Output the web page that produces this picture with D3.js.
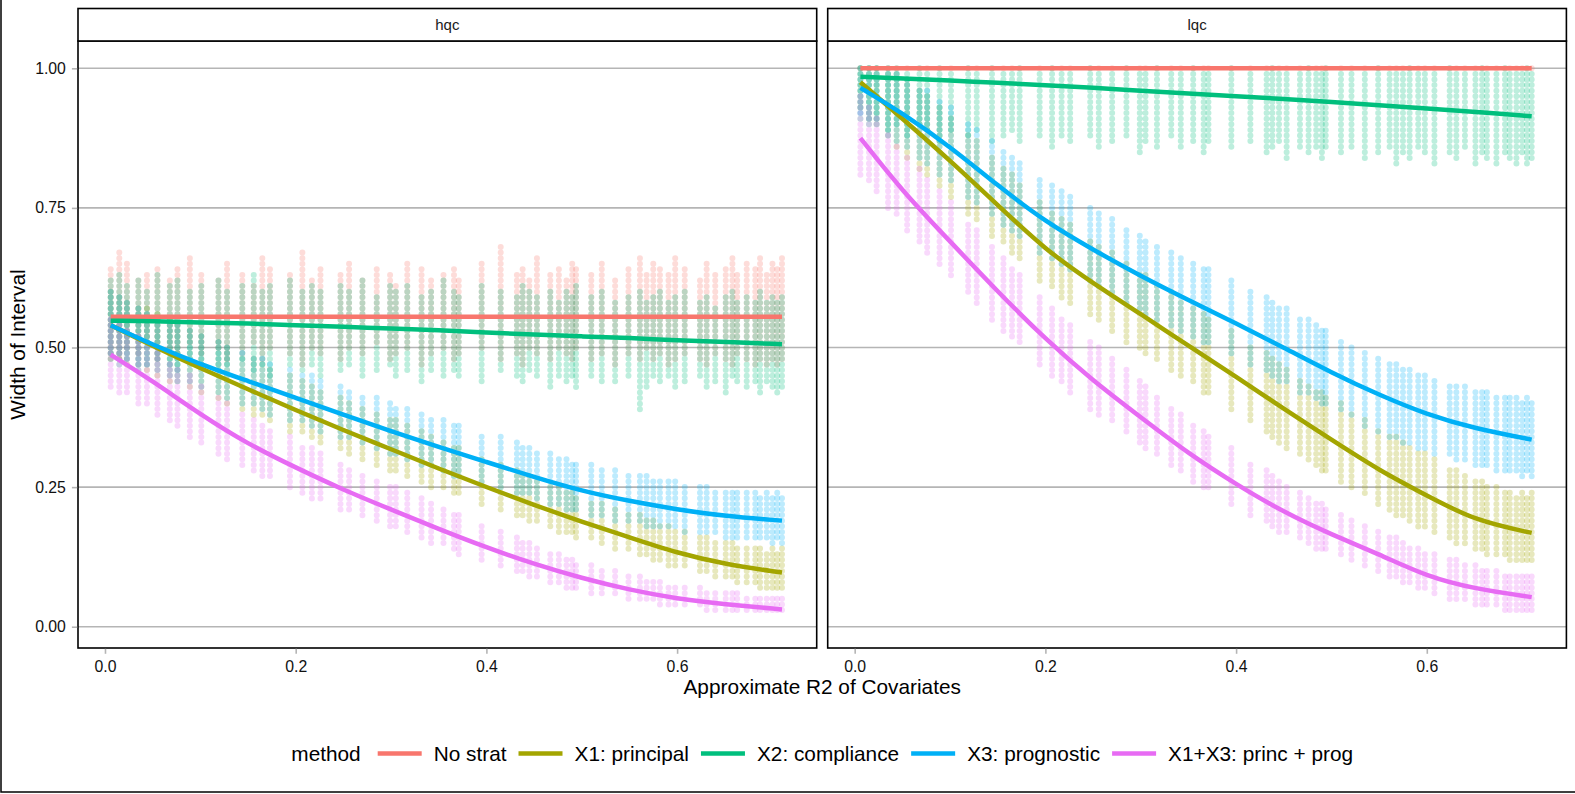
<!DOCTYPE html>
<html>
<head>
<meta charset="utf-8">
<script src="https://cdn.jsdelivr.net/npm/d3@7"></script>
<style>
  body { margin: 0; background: #fff; }
  svg { display: block; font-family: "Liberation Sans", Arial, Helvetica, sans-serif; }
</style>
</head>
<body>
<div id="chart"></div>
<script>
/* DATA */
const panels = ["hqc", "lqc"];
const methods = ["No strat", "X1: principal", "X2: compliance", "X3: prognostic", "X1+X3: princ + prog"];
const colors = ["#F8766D", "#A3A500", "#00BF7D", "#00B0F6", "#E76BF3"];
const xTicks = [0, 0.2, 0.4, 0.6];
const yTicks = [0, 0.25, 0.5, 0.75, 1];

// x positions (approximate R2) of the point columns, shared by both panels
const cols = [0.006,0.015,0.023,0.035,0.044,0.055,0.068,0.076,0.089,0.101,
  0.119,0.128,0.144,0.156,0.165,0.173,0.194,0.207,0.217,0.226,
  0.247,0.256,0.270,0.285,0.299,0.305,0.317,0.332,0.342,0.355,
  0.366,0.371,0.395,0.415,0.432,0.438,0.445,0.453,0.467,0.476,
  0.484,0.490,0.494,0.510,0.521,0.535,0.549,0.561,0.568,0.575,
  0.582,0.591,0.598,0.608,0.624,0.631,0.640,0.651,0.658,0.663,
  0.673,0.682,0.687,0.694,0.700,0.705,0.710];

// lowest / highest point in each column
const hqcNoStratLo = [0.48,0.47,0.49,0.48,0.50,0.47,0.49,0.48,0.50,0.48,
  0.49,0.47,0.48,0.50,0.47,0.49,0.48,0.46,0.49,0.48,
  0.47,0.49,0.48,0.50,0.47,0.48,0.49,0.46,0.48,0.49,
  0.47,0.48,0.49,0.47,0.48,0.46,0.49,0.48,0.47,0.49,
  0.48,0.47,0.49,0.47,0.48,0.46,0.48,0.47,0.49,0.47,
  0.48,0.46,0.47,0.48,0.47,0.46,0.48,0.47,0.46,0.48,
  0.47,0.46,0.47,0.46,0.47,0.46,0.47];
const hqcNoStratHi = [0.64,0.67,0.65,0.62,0.63,0.64,0.62,0.64,0.66,0.63,
  0.62,0.65,0.63,0.61,0.66,0.64,0.63,0.67,0.62,0.64,
  0.63,0.65,0.62,0.64,0.63,0.61,0.65,0.64,0.62,0.63,
  0.64,0.62,0.65,0.68,0.63,0.64,0.62,0.66,0.63,0.64,
  0.62,0.65,0.64,0.63,0.65,0.62,0.64,0.66,0.63,0.65,
  0.64,0.63,0.66,0.64,0.62,0.65,0.63,0.64,0.66,0.63,
  0.65,0.64,0.66,0.63,0.65,0.64,0.66];
const hqcX1Lo = [0.47,0.47,0.46,0.46,0.45,0.44,0.43,0.43,0.42,0.41,
  0.40,0.39,0.38,0.37,0.37,0.36,0.34,0.34,0.33,0.32,
  0.31,0.30,0.29,0.28,0.27,0.27,0.26,0.25,0.24,0.24,
  0.23,0.23,0.21,0.20,0.19,0.19,0.18,0.18,0.17,0.16,
  0.16,0.16,0.15,0.15,0.14,0.13,0.13,0.12,0.12,0.11,
  0.11,0.10,0.10,0.10,0.09,0.09,0.08,0.08,0.08,0.07,
  0.07,0.07,0.06,0.06,0.06,0.06,0.06];
const hqcX1Hi = [0.60,0.59,0.58,0.57,0.57,0.56,0.55,0.54,0.53,0.52,
  0.51,0.50,0.48,0.48,0.47,0.46,0.45,0.44,0.43,0.42,
  0.41,0.40,0.39,0.38,0.37,0.37,0.36,0.35,0.34,0.33,
  0.32,0.32,0.30,0.29,0.28,0.27,0.27,0.26,0.25,0.25,
  0.24,0.24,0.23,0.22,0.22,0.21,0.20,0.20,0.19,0.19,
  0.18,0.18,0.17,0.17,0.16,0.16,0.15,0.15,0.15,0.14,
  0.14,0.14,0.14,0.13,0.14,0.13,0.14];
const hqcX2Lo = [0.47,0.46,0.47,0.45,0.46,0.47,0.46,0.45,0.47,0.46,
  0.45,0.46,0.47,0.45,0.46,0.44,0.46,0.45,0.46,0.44,
  0.45,0.46,0.44,0.45,0.46,0.44,0.45,0.43,0.45,0.44,
  0.45,0.44,0.43,0.45,0.44,0.43,0.45,0.44,0.42,0.44,
  0.43,0.44,0.42,0.44,0.43,0.43,0.44,0.38,0.42,0.44,
  0.43,0.44,0.42,0.43,0.44,0.42,0.43,0.41,0.44,0.43,
  0.42,0.43,0.41,0.43,0.42,0.41,0.42];
const hqcX2Hi = [0.62,0.63,0.61,0.62,0.60,0.63,0.61,0.62,0.60,0.61,
  0.62,0.60,0.61,0.63,0.60,0.61,0.62,0.60,0.61,0.60,
  0.61,0.60,0.62,0.59,0.61,0.60,0.61,0.59,0.60,0.62,
  0.60,0.59,0.61,0.60,0.59,0.61,0.60,0.59,0.60,0.58,
  0.60,0.59,0.61,0.59,0.60,0.58,0.59,0.60,0.58,0.59,
  0.60,0.58,0.59,0.60,0.58,0.59,0.57,0.59,0.60,0.58,
  0.59,0.58,0.60,0.58,0.59,0.58,0.59];
const hqcX3Lo = [0.48,0.48,0.47,0.46,0.46,0.45,0.44,0.43,0.43,0.42,
  0.41,0.40,0.39,0.39,0.38,0.37,0.36,0.36,0.35,0.34,
  0.33,0.33,0.32,0.31,0.30,0.30,0.29,0.28,0.28,0.27,
  0.26,0.26,0.25,0.24,0.23,0.23,0.23,0.22,0.21,0.21,
  0.20,0.20,0.20,0.19,0.19,0.18,0.18,0.18,0.17,0.17,
  0.17,0.17,0.17,0.16,0.16,0.16,0.16,0.15,0.15,0.15,
  0.15,0.15,0.15,0.15,0.14,0.15,0.14];
const hqcX3Hi = [0.60,0.59,0.58,0.57,0.56,0.55,0.54,0.54,0.53,0.52,
  0.51,0.50,0.49,0.48,0.48,0.47,0.46,0.45,0.45,0.44,
  0.43,0.42,0.41,0.41,0.40,0.39,0.39,0.38,0.37,0.37,
  0.36,0.36,0.34,0.34,0.33,0.32,0.32,0.31,0.31,0.30,
  0.30,0.29,0.29,0.29,0.28,0.28,0.27,0.27,0.27,0.26,
  0.26,0.26,0.26,0.25,0.25,0.25,0.24,0.24,0.24,0.24,
  0.24,0.24,0.23,0.24,0.23,0.24,0.23];
const hqcX13Lo = [0.42,0.41,0.41,0.39,0.39,0.37,0.36,0.35,0.33,0.32,
  0.30,0.29,0.28,0.27,0.26,0.26,0.24,0.23,0.22,0.22,
  0.20,0.20,0.19,0.18,0.17,0.17,0.16,0.15,0.14,0.14,
  0.13,0.12,0.11,0.10,0.09,0.09,0.08,0.08,0.07,0.07,
  0.06,0.06,0.06,0.05,0.05,0.05,0.04,0.04,0.04,0.04,
  0.03,0.03,0.03,0.03,0.03,0.02,0.02,0.02,0.02,0.02,
  0.02,0.02,0.02,0.02,0.02,0.02,0.02];
const hqcX13Hi = [0.55,0.54,0.53,0.52,0.50,0.49,0.47,0.46,0.45,0.43,
  0.41,0.40,0.38,0.37,0.36,0.35,0.34,0.32,0.32,0.31,
  0.29,0.28,0.27,0.26,0.25,0.25,0.24,0.23,0.22,0.21,
  0.20,0.20,0.18,0.17,0.16,0.15,0.15,0.14,0.13,0.13,
  0.12,0.12,0.11,0.11,0.10,0.10,0.09,0.09,0.08,0.08,
  0.08,0.07,0.07,0.07,0.07,0.06,0.06,0.06,0.06,0.06,
  0.05,0.05,0.05,0.05,0.05,0.05,0.05];

const lqcNoStratLo = [1,1,1,1,1,1,1,1,1,1, 1,1,1,1,1,1,1,1,1,1, 1,1,1,1,1,1,1,1,1,1,
  1,1,1,1,1,1,1,1,1,1, 1,1,1,1,1,1,1,1,1,1, 1,1,1,1,1,1,1,1,1,1, 1,1,1,1,1,1,1];
const lqcNoStratHi = [1,1,1,1,1,1,1,1,1,1, 1,1,1,1,1,1,1,1,1,1, 1,1,1,1,1,1,1,1,1,1,
  1,1,1,1,1,1,1,1,1,1, 1,1,1,1,1,1,1,1,1,1, 1,1,1,1,1,1,1,1,1,1, 1,1,1,1,1,1,1];
const lqcX1Lo = [0.92,0.90,0.89,0.87,0.85,0.83,0.81,0.80,0.78,0.76,
  0.73,0.72,0.69,0.68,0.66,0.65,0.61,0.60,0.58,0.57,
  0.55,0.54,0.52,0.50,0.49,0.48,0.47,0.45,0.44,0.43,
  0.41,0.41,0.38,0.36,0.34,0.33,0.32,0.31,0.30,0.29,
  0.28,0.27,0.27,0.25,0.24,0.23,0.21,0.20,0.19,0.19,
  0.18,0.17,0.17,0.16,0.15,0.14,0.14,0.13,0.13,0.12,
  0.12,0.12,0.11,0.11,0.11,0.11,0.11];
const lqcX1Hi = [1.00,1.00,1.00,1.00,0.99,0.98,0.96,0.95,0.93,0.91,
  0.88,0.87,0.84,0.82,0.81,0.79,0.76,0.74,0.73,0.72,
  0.69,0.68,0.67,0.65,0.63,0.63,0.61,0.60,0.58,0.57,
  0.56,0.55,0.53,0.50,0.49,0.48,0.47,0.46,0.44,0.43,
  0.42,0.42,0.41,0.40,0.38,0.37,0.35,0.34,0.34,0.33,
  0.32,0.31,0.31,0.30,0.28,0.28,0.27,0.26,0.26,0.25,
  0.25,0.24,0.24,0.23,0.24,0.23,0.24];
const lqcX2Lo = [0.90,0.89,0.90,0.88,0.89,0.87,0.89,0.88,0.86,0.88,
  0.87,0.88,0.86,0.87,0.88,0.86,0.87,0.85,0.87,0.86,
  0.87,0.85,0.86,0.87,0.84,0.86,0.85,0.87,0.85,0.86,
  0.84,0.86,0.85,0.86,0.84,0.85,0.86,0.83,0.85,0.84,
  0.85,0.83,0.85,0.84,0.85,0.83,0.84,0.85,0.82,0.84,
  0.83,0.85,0.84,0.82,0.84,0.83,0.85,0.82,0.84,0.83,
  0.82,0.84,0.83,0.82,0.84,0.82,0.83];
const lqcX2Hi = [1.00,1.00,1.00,0.99,1.00,0.99,1.00,0.99,1.00,0.99,
  1.00,0.99,1.00,0.99,0.99,1.00,0.99,1.00,0.99,0.99,
  1.00,0.99,0.99,1.00,0.99,0.99,1.00,0.99,0.99,1.00,
  0.99,0.99,1.00,0.99,0.99,1.00,0.99,0.99,0.99,1.00,
  0.99,0.99,1.00,0.99,0.99,0.99,1.00,0.99,0.99,0.99,
  1.00,0.99,0.99,0.99,1.00,0.99,0.99,0.99,1.00,0.99,
  0.99,1.00,0.99,0.99,0.99,1.00,0.99];
const lqcX3Lo = [0.91,0.90,0.89,0.87,0.86,0.85,0.83,0.82,0.80,0.79,
  0.76,0.75,0.73,0.71,0.70,0.69,0.66,0.65,0.64,0.63,
  0.61,0.60,0.59,0.57,0.56,0.55,0.54,0.53,0.52,0.51,
  0.50,0.50,0.48,0.46,0.45,0.44,0.43,0.43,0.41,0.41,
  0.40,0.39,0.39,0.38,0.37,0.35,0.34,0.33,0.33,0.32,
  0.32,0.31,0.31,0.30,0.30,0.29,0.29,0.28,0.28,0.28,
  0.27,0.27,0.27,0.27,0.26,0.27,0.26];
const lqcX3Hi = [1.00,1.00,1.00,1.00,0.99,0.98,0.96,0.96,0.94,0.93,
  0.90,0.89,0.87,0.85,0.84,0.83,0.80,0.79,0.78,0.77,
  0.75,0.74,0.73,0.71,0.70,0.69,0.68,0.67,0.66,0.65,
  0.64,0.64,0.62,0.60,0.59,0.58,0.57,0.57,0.55,0.55,
  0.54,0.53,0.53,0.51,0.50,0.49,0.48,0.47,0.47,0.46,
  0.46,0.45,0.45,0.44,0.43,0.43,0.43,0.42,0.42,0.42,
  0.41,0.41,0.41,0.41,0.40,0.41,0.40];
const lqcX13Lo = [0.80,0.79,0.77,0.74,0.73,0.70,0.68,0.66,0.64,0.62,
  0.59,0.57,0.54,0.52,0.51,0.50,0.46,0.44,0.43,0.41,
  0.38,0.37,0.36,0.34,0.32,0.31,0.30,0.28,0.27,0.25,
  0.24,0.24,0.21,0.19,0.18,0.17,0.16,0.16,0.15,0.14,
  0.13,0.13,0.13,0.12,0.11,0.10,0.09,0.08,0.08,0.07,
  0.07,0.06,0.06,0.05,0.04,0.04,0.04,0.03,0.03,0.03,
  0.03,0.02,0.02,0.02,0.02,0.02,0.02];
const lqcX13Hi = [0.95,0.93,0.91,0.88,0.86,0.84,0.82,0.80,0.78,0.76,
  0.72,0.71,0.68,0.66,0.64,0.63,0.59,0.57,0.55,0.54,
  0.51,0.50,0.48,0.46,0.44,0.43,0.41,0.39,0.38,0.36,
  0.35,0.34,0.32,0.29,0.28,0.27,0.26,0.25,0.24,0.23,
  0.22,0.22,0.21,0.20,0.19,0.18,0.17,0.16,0.16,0.15,
  0.14,0.14,0.13,0.13,0.12,0.12,0.11,0.11,0.10,0.10,
  0.10,0.09,0.09,0.09,0.09,0.09,0.09];

// smoothed trend lines, read at these x positions
const knots = [0.006,0.05,0.1,0.15,0.2,0.25,0.3,0.35,0.4,0.45,0.5,0.55,0.6,0.65,0.71];
const hqcNoStratFit = [0.555,0.555,0.555,0.555,0.555,0.555,0.555,0.555,0.555,0.555,0.555,0.555,0.555,0.555,0.555];
const hqcX1Fit = [0.540,0.503,0.463,0.425,0.388,0.352,0.318,0.283,0.250,0.218,0.188,0.160,0.132,0.112,0.097];
const hqcX2Fit = [0.548,0.547,0.545,0.543,0.540,0.537,0.534,0.531,0.527,0.523,0.520,0.517,0.513,0.510,0.506];
const hqcX3Fit = [0.540,0.505,0.470,0.440,0.410,0.380,0.350,0.322,0.295,0.268,0.243,0.225,0.210,0.198,0.190];
const hqcX13Fit = [0.487,0.440,0.380,0.327,0.285,0.245,0.210,0.175,0.142,0.112,0.087,0.066,0.050,0.040,0.031];
const lqcNoStratFit = [1,1,1,1,1,1,1,1,1,1,1,1,1,1,1];
const lqcX1Fit = [0.975,0.910,0.835,0.755,0.675,0.615,0.560,0.503,0.448,0.390,0.335,0.280,0.235,0.190,0.168];
const lqcX2Fit = [0.985,0.982,0.978,0.974,0.970,0.965,0.960,0.955,0.950,0.945,0.940,0.934,0.928,0.922,0.914];
const lqcX3Fit = [0.965,0.920,0.860,0.790,0.725,0.675,0.628,0.585,0.543,0.500,0.455,0.415,0.380,0.355,0.335];
const lqcX13Fit = [0.875,0.780,0.690,0.600,0.515,0.440,0.375,0.310,0.255,0.205,0.165,0.130,0.090,0.068,0.053];

// table per panel, methods in legend order
const series = {
  hqc: [
    { lo: hqcNoStratLo, hi: hqcNoStratHi, fit: hqcNoStratFit },
    { lo: hqcX1Lo, hi: hqcX1Hi, fit: hqcX1Fit },
    { lo: hqcX2Lo, hi: hqcX2Hi, fit: hqcX2Fit },
    { lo: hqcX3Lo, hi: hqcX3Hi, fit: hqcX3Fit },
    { lo: hqcX13Lo, hi: hqcX13Hi, fit: hqcX13Fit }
  ],
  lqc: [
    { lo: lqcNoStratLo, hi: lqcNoStratHi, fit: lqcNoStratFit },
    { lo: lqcX1Lo, hi: lqcX1Hi, fit: lqcX1Fit },
    { lo: lqcX2Lo, hi: lqcX2Hi, fit: lqcX2Fit },
    { lo: lqcX3Lo, hi: lqcX3Hi, fit: lqcX3Fit },
    { lo: lqcX13Lo, hi: lqcX13Hi, fit: lqcX13Fit }
  ]
};

/* CONSTANTS */
const width = 1575, height = 794;
const stripTop = 8.5, panelTop = 41, panelBottom = 648;
const panelLeft = [78, 827.7], panelWidth = 738.7;
const xDomain = [-0.0283, 0.7464], yDomain = [-0.0381, 1.0489];
const gridColor = "#b5b5b5";
const baseFont = "20.8px";

const svg = d3.select("#chart")
  .append("svg")
  .attr("width", width)
  .attr("height", height);

svg.append("rect").attr("width", width).attr("height", height).attr("fill", "#fff");

// outer frame (only left and bottom edges show in the picture)
svg.append("rect")
  .attr("x", 1).attr("y", -10)
  .attr("width", width + 20).attr("height", 802)
  .attr("fill", "none").attr("stroke", "#000").attr("stroke-width", 1.5);

const yScale = d3.scaleLinear().domain(yDomain).range([panelBottom, panelTop]);

panels.forEach((p, pi) => {
  const x0 = panelLeft[pi], x1 = x0 + panelWidth;
  const xScale = d3.scaleLinear().domain(xDomain).range([x0, x1]);
  const g = svg.append("g").attr("class", "panel-" + p);

  // horizontal grid
  g.selectAll(".grid")
    .data(yTicks)
    .join("line")
    .attr("class", "grid")
    .attr("x1", x0).attr("x2", x1)
    .attr("y1", d => yScale(d)).attr("y2", d => yScale(d))
    .attr("stroke", gridColor).attr("stroke-width", 1.6);

  // point columns, drawn column by column so colours mix like the original
  const pts = [];
  cols.forEach((c, i) => {
    series[p].forEach((s, m) => pts.push({ x: c, lo: s.lo[i], hi: s.hi[i], m: m }));
  });
  g.append("g")
    .selectAll("path")
    .data(pts)
    .join("path")
    .attr("d", d => `M${xScale(d.x)},${yScale(d.hi)}L${xScale(d.x)},${yScale(d.lo) + 0.01}`)
    .attr("fill", "none")
    .attr("stroke", d => colors[d.m])
    .attr("stroke-opacity", 0.26)
    .attr("stroke-width", 6)
    .attr("stroke-linecap", "round")
    .attr("stroke-dasharray", "0 5.6");

  // smooth lines
  const line = d3.line()
    .x((d, i) => xScale(knots[i]))
    .y(d => yScale(d))
    .curve(d3.curveBasis);

  g.append("g")
    .selectAll("path")
    .data(series[p])
    .join("path")
    .attr("d", d => line(d.fit))
    .attr("fill", "none")
    .attr("stroke", (d, m) => colors[m])
    .attr("stroke-width", 4.5)
    .attr("stroke-linecap", "butt");

  // panel border
  g.append("rect")
    .attr("x", x0).attr("y", panelTop)
    .attr("width", panelWidth).attr("height", panelBottom - panelTop)
    .attr("fill", "none").attr("stroke", "#000").attr("stroke-width", 1.6);

  // strip
  g.append("rect")
    .attr("x", x0).attr("y", stripTop)
    .attr("width", panelWidth).attr("height", panelTop - stripTop)
    .attr("fill", "#fff").attr("stroke", "#000").attr("stroke-width", 1.6);
  g.append("text")
    .attr("x", (x0 + x1) / 2)
    .attr("y", (stripTop + panelTop) / 2)
    .attr("dy", "0.35em")
    .attr("text-anchor", "middle")
    .style("font-size", "15px")
    .style("fill", "#1a1a1a")
    .text(p);

  // x axis
  const xAxis = d3.axisBottom(xScale)
    .tickValues(xTicks)
    .tickFormat(d3.format(".1f"))
    .tickSize(5)
    .tickPadding(7);
  const xAxisGroup = g.append("g")
    .attr("transform", `translate(0,${panelBottom + 0.8})`)
    .call(xAxis);
  xAxisGroup.select(".domain").remove();
  xAxisGroup.selectAll(".tick line").attr("stroke", gridColor).attr("stroke-width", 1.6);
  xAxisGroup.selectAll(".tick text")
    .style("font-size", "15.8px")
    .style("font-family", "'Liberation Sans', Arial, sans-serif")
    .attr("fill", "#111");
});

// y axis (left panel only)
const yAxis = d3.axisLeft(yScale)
  .tickValues(yTicks)
  .tickFormat(d3.format(".2f"))
  .tickSize(5.3)
  .tickPadding(6);
const yAxisGroup = svg.append("g")
  .attr("transform", `translate(${panelLeft[0] - 0.8},0)`)
  .call(yAxis);
yAxisGroup.select(".domain").remove();
yAxisGroup.selectAll(".tick line").attr("stroke", gridColor).attr("stroke-width", 1.6);
yAxisGroup.selectAll(".tick text")
  .style("font-size", "15.8px")
  .style("font-family", "'Liberation Sans', Arial, sans-serif")
  .attr("fill", "#111");

// axis titles
const plotCenter = (panelLeft[0] + panelLeft[1] + panelWidth) / 2;
svg.append("text")
  .attr("x", plotCenter)
  .attr("y", 693.5)
  .attr("text-anchor", "middle")
  .style("font-size", baseFont)
  .text("Approximate R2 of Covariates");

svg.append("text")
  .attr("transform", `translate(24.5,${(panelTop + panelBottom) / 2}) rotate(-90)`)
  .attr("text-anchor", "middle")
  .style("font-size", baseFont)
  .text("Width of Interval");

// legend
const legendY = 753.5;
const legend = svg.append("g").attr("class", "legend");
let cursor = 0;
const title = legend.append("text")
  .attr("x", cursor).attr("y", legendY).attr("dy", "0.35em")
  .style("font-size", baseFont)
  .text("method");
cursor += title.node().getComputedTextLength() + 17;

methods.forEach((m, i) => {
  legend.append("line")
    .attr("x1", cursor).attr("x2", cursor + 44)
    .attr("y1", legendY).attr("y2", legendY)
    .attr("stroke", colors[i]).attr("stroke-width", 4.3);
  cursor += 44 + 12;
  const t = legend.append("text")
    .attr("x", cursor).attr("y", legendY).attr("dy", "0.35em")
    .style("font-size", baseFont)
    .text(m);
  cursor += t.node().getComputedTextLength() + (i < methods.length - 1 ? 12 : 0);
});
legend.attr("transform", `translate(${plotCenter - cursor / 2},0)`);
</script>
</body>
</html>
